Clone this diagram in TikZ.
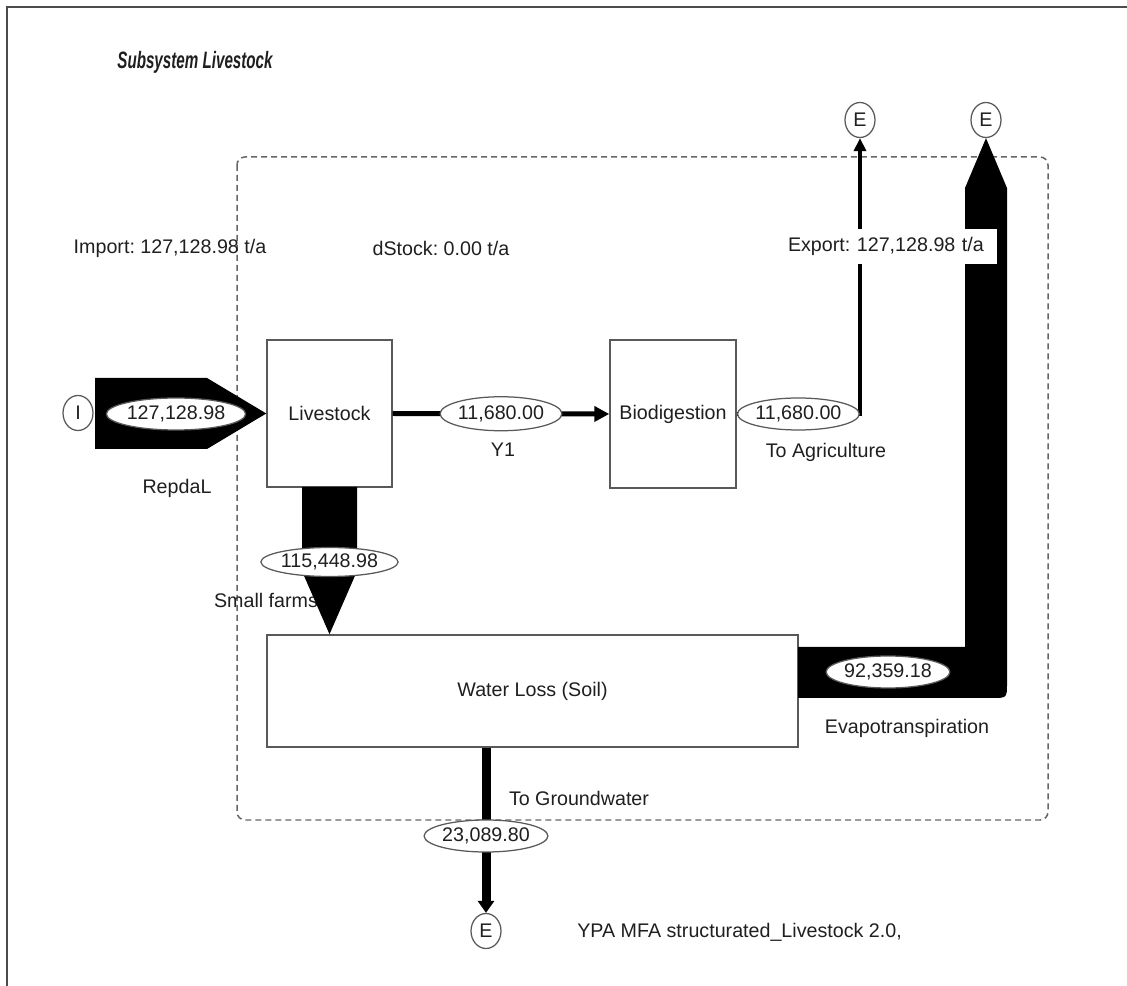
\documentclass[tikz,border=0pt]{standalone}
\usepackage{fontspec}
\usepackage{graphicx}
\setmainfont{Liberation Sans}
\usetikzlibrary{shapes.geometric,arrows.meta,calc}
\newcommand\diafont{\fontsize{11.2pt}{13pt}\selectfont\frenchspacing}
\begin{document}
\begin{tikzpicture}[x=0.02cm,y=-0.02cm,font=\diafont,text=black!88,
  box/.style={draw=black!65,line width=0.03cm,fill=white,inner sep=0},
  term/.style={ellipse,draw=black!65,line width=0.025cm,fill=white,inner sep=0,minimum width=0.6cm,minimum height=0.7cm},
  flowval/.style={ellipse,draw=black!65,line width=0.025cm,fill=white,inner sep=0},
  lbl/.style={inner sep=0}]
\useasboundingbox (0,0) rectangle (1127,986);
% frame
\draw[black!70,line width=0.04cm] (7,986) -- (7,7) -- (1127,7);
% system boundary
\draw[black!60,line width=0.03cm,dash pattern=on 0.12cm off 0.08cm,rounded corners=0.16cm] (237,157) rectangle (1048,820);
% title
\node[lbl,font=\fontsize{13.5pt}{15pt}\selectfont\bfseries\itshape] (title) at (195,62) {\scalebox{0.64}[1]{Subsystem Livestock}};
% terminals
\node[term] (I) at (78,413) {I};
\node[term] (E1) at (860,120) {E};
\node[term] (E2) at (986,120) {E};
\node[term] (E3) at (486,931) {E};
% processes
\node[box,minimum width=2.5cm,minimum height=2.94cm] (live) at (329.5,413.5) {Livestock};
\node[box,minimum width=2.52cm,minimum height=2.96cm] (bio) at (673,414) {Biodigestion};
\node[box,minimum width=10.62cm,minimum height=2.24cm] (water) at (532.5,691) {Water Loss (Soil)};
% balance texts
\node[lbl] (imp) at (170,248) {Import: 127,128.98 t/a};
\node[lbl] (dst) at (441,248) {dStock: 0.00 t/a};
% import flow
\fill[black] (95,378) -- (207,378) -- (live.west) -- (207,449) -- (95,449) -- cycle;
\node[flowval,minimum width=2.66cm,minimum height=0.64cm] (vimp) at (176,414) {127,128.98};
\node[lbl] (repdal) at (177,488) {RepdaL};
% Y1
\draw[line width=0.1cm,-{Triangle[length=0.3cm,width=0.3cm]}] (live.east) -- node[flowval,minimum width=2.42cm,minimum height=0.68cm] (vy1) {11,680.00} (bio.west);
\node[lbl] (y1) at (503,450) {Y1};
% to agriculture
\draw[line width=0.08cm,-{Triangle[length=0.26cm,width=0.24cm]}] (bio.east) -| node[pos=0.25,flowval,minimum width=2.32cm,minimum height=0.64cm] (vagr) {11,680.00} (E1.south);
\node[lbl] (agr) at (826,452) {To Agriculture};
% small farms
\node[lbl] (sf) at (266,600) {Small farms};
\fill[black] (302,487) -- (357,487) -- (357,562) -- (361,562) -- (live.south |- water.north) -- (298,562) -- (302,562) -- cycle;
\node[flowval,minimum width=2.64cm,minimum height=0.58cm] (vsf) at (329.5,562) {115,448.98};
% evapotranspiration
\fill[black] (798,647) -- (965,647) -- (965,188) -- (E2.south) -- (1007,188) -- (1007,683) .. controls (1007,698) .. (992,698) -- (798,698) -- cycle;
\node[flowval,minimum width=2.4cm,minimum height=0.64cm] (vev) at (888,672) {92,359.18};
\node[lbl] (ev) at (907,728) {Evapotranspiration};
% export label
\node[fill=white,text width=4.08cm,inner xsep=0.1cm,inner ysep=0,minimum height=0.7cm,align=left] (exp) at (890,246.5) {Export: 127,128.98 t/a};
% groundwater
\draw[line width=0.18cm,-{Triangle[length=0.24cm,width=0.32cm]}] (water.south -| E3.north) -- (E3.north);
\node[flowval,minimum width=2.44cm,minimum height=0.64cm] (vgw) at (486,836) {23,089.80};
\node[lbl] (gw) at (579,798) {To Groundwater};
% footer
\node[lbl,anchor=west] (ypa) at (577,932) {YPA MFA structurated\_Livestock 2.0,};
\end{tikzpicture}
\end{document}
